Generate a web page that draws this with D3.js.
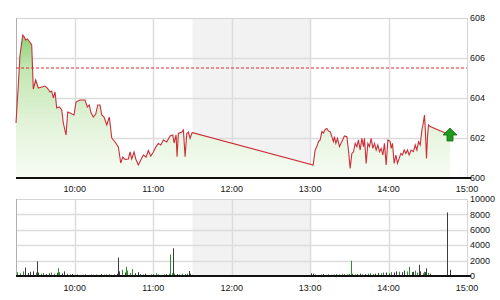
<!DOCTYPE html>
<html>
<head>
<meta charset="utf-8">
<script src="https://cdn.jsdelivr.net/npm/d3@7"></script>
<style>
  html, body { margin: 0; padding: 0; background: #fff; }
  svg { display: block; }
  .lbl { font-family: "Liberation Sans", Arial, sans-serif; font-size: 9px; fill: #161616; }
</style>
</head>
<body>
<div id="chart"></div>
<script>
// Price data (intraday)
const priceTimes = [
  "09:15:00","09:16:46","09:18:04","09:20:08","09:21:07","09:22:25","09:23:39","09:24:57","09:26:15","09:27:01",
  "09:28:14","09:30:05","09:32:04","09:34:40","09:37:12","09:38:57","09:41:01","09:42:19","09:43:33","09:44:51",
  "09:46:09","09:48:08","09:49:59","09:51:12","09:53:16","09:54:34","09:56:20","09:59:23","10:00:55","10:03:59",
  "10:07:48","10:09:34","10:11:06","10:12:10","10:14:10","10:16:00","10:17:32","10:19:17","10:20:35","10:22:21",
  "10:24:25","10:26:24","10:28:15","10:30:46","10:33:18","10:35:08","10:36:40","10:38:25","10:40:57","10:42:15",
  "10:43:33","10:45:19","10:46:37","10:48:36","10:50:26","10:52:26","10:54:30","10:56:15","10:58:05","11:00:05",
  "11:02:09","11:03:54","11:05:45","11:07:44","11:10:20","11:12:52","11:14:56","11:15:55","11:17:27","11:18:13",
  "11:19:13","11:21:49","11:23:03","11:24:21","11:25:39","11:26:52","11:28:10","11:29:28","11:30:00",
  "13:02:18","13:03:50","13:05:08","13:06:22","13:07:40","13:08:58","13:10:11","13:11:29","13:12:47","13:14:01",
  "13:15:19","13:16:37","13:17:50","13:18:36","13:19:41","13:20:54","13:22:26","13:24:16","13:26:15","13:28:06",
  "13:29:19","13:30:37","13:31:55","13:33:09","13:34:27","13:35:45","13:36:58","13:38:16","13:39:34","13:40:48",
  "13:41:34","13:42:52","13:44:10","13:45:23","13:46:41","13:47:59","13:49:13","13:50:31","13:51:49","13:53:03",
  "13:54:21","13:55:39","13:56:52","13:58:10","13:59:28","14:01:14","14:02:00","14:02:59","14:04:18","14:05:36",
  "14:06:49","14:08:07","14:09:25","14:10:39","14:11:57","14:13:15","14:14:28","14:15:46","14:17:18","14:19:04",
  "14:20:22","14:21:40","14:22:54","14:24:12","14:25:30","14:26:16","14:27:29","14:28:15","14:29:01","14:29:47",
  "14:30:33","14:31:51","14:47:00"
];
const priceValues = [
  602.75,604.65,606.15,607.15,607.07,606.9,606.95,606.85,606.73,606.65,
  604.45,604.9,604.5,604.55,604.6,604.5,604.3,604.35,604.0,604.3,
  603.5,603.55,603.4,602.75,602.15,603.3,603.25,603.15,603.8,603.9,
  603.9,603.55,603.65,603.3,603.05,603.2,603.65,603.65,603.15,603.05,
  602.65,603.05,602.0,601.8,601.55,600.75,601.05,600.93,600.95,601.3,
  600.95,601.3,600.95,600.65,600.9,601.15,601.05,601.37,601.1,601.3,
  601.57,601.73,601.65,601.9,601.8,602.1,602.15,601.75,602.15,601.07,
  602.23,602.3,602.4,601.07,602.23,602.3,601.98,602.23,602.27,
  600.65,601.4,601.57,601.82,601.9,602.32,602.25,602.43,602.48,602.35,
  602.32,602.07,601.82,602.07,601.73,601.98,601.57,601.82,602.1,602.07,
  601.4,600.48,601.23,601.3,601.73,601.57,601.9,601.4,601.98,601.57,
  601.98,600.73,601.73,601.57,601.98,601.48,601.73,601.4,601.65,601.32,
  601.48,601.15,601.73,600.65,601.9,601.82,601.48,601.73,600.73,601.15,
  600.73,600.98,601.23,601.15,601.4,601.23,601.4,601.15,601.4,601.32,
  601.65,601.4,601.82,601.65,602.4,602.65,603.15,602.23,600.98,602.07,
  602.65,602.57,602.15
];
const prevClose = 605.5;

// Volume: regular 2-minute base bars per session, plus the larger trades
const volAmStart = "09:16";
const volAmBase = [
  500,350,600,450,400,550,600,450,450,300,400,250,350,450,300,400,500,350,600,300,
  200,250,150,200,120,150,200,120,180,150,200,150,250,180,200,250,150,200,300,600,
  500,450,700,400,350,350,500,250,200,300,150,200,250,350,200,150,200,250,300,350,
  300,250,200,300,250,300,300,150
];
const volPmStart = "13:02";
const volPmBase = [
  300,200,150,200,250,150,200,150,200,250,200,300,250,200,250,300,200,250,300,200,
  250,300,350,250,300,400,350,300,450,350,500,450,600,550,500,700,600,650,500,700,
  450,600,350,500,400,300
];
const volSpikeTimes = ["09:22","09:31","09:47","10:33","10:36","10:39","10:44","11:13","11:15","11:27",
  "13:01","13:31","13:56","14:12","14:16","14:19","14:23","14:27","14:29","14:45","14:47"];
const volSpikeValues = [1100,1900,1000,2400,800,1200,900,2800,3600,650,
  350,1970,450,650,1200,550,1450,550,1000,8250,800];

// Axis labels
const timeTicks = ["10:00","11:00","12:00","13:00","14:00","15:00"];
const priceTicks = [600,602,604,606,608];
const volTicks = [0,2000,4000,6000,8000,10000];

const W = 500, H = 300;
const left = 16, right = 467;
const pTop = 18, pBottom = 178;
const vTop = 199, vBottom = 276;

const parseS = d3.timeParse("%H:%M:%S");
const parseM = d3.timeParse("%H:%M");

const x = d3.scaleTime()
  .domain([parseM("09:15"), parseM("15:00")])
  .range([left, right]);
const yP = d3.scaleLinear().domain([600, 608]).range([pBottom, pTop]);
const yV = d3.scaleLinear().domain([0, 10000]).range([vBottom, vTop]);

const prices = priceTimes.map((t, i) => ({ t: parseS(t), v: priceValues[i] }));

const vols = [];
volAmBase.forEach((v, i) => vols.push({ t: d3.timeMinute.offset(parseM(volAmStart), 2 * i), v }));
volPmBase.forEach((v, i) => vols.push({ t: d3.timeMinute.offset(parseM(volPmStart), 2 * i), v }));
volSpikeTimes.forEach((t, i) => vols.push({ t: parseM(t), v: volSpikeValues[i] }));

// up/down colour from the price move at that time
const bis = d3.bisector(d => d.t).right;
function isUp(t) {
  const i = Math.max(1, Math.min(prices.length - 1, bis(prices, t)));
  return prices[i].v >= prices[i - 1].v;
}

const svg = d3.select("#chart").append("svg")
  .attr("width", W).attr("height", H);

const defs = svg.append("defs");
const grad = defs.append("linearGradient")
  .attr("id", "fillGrad")
  .attr("gradientUnits", "userSpaceOnUse")
  .attr("x1", 0).attr("x2", 0).attr("y1", pTop).attr("y2", pBottom);
grad.append("stop").attr("offset", "0%").attr("stop-color", "#6fc655");
grad.append("stop").attr("offset", "30%").attr("stop-color", "#bfe6ae");
grad.append("stop").attr("offset", "65%").attr("stop-color", "#e2f3d9");
grad.append("stop").attr("offset", "100%").attr("stop-color", "#f7fcf4");

const lunch0 = parseM("11:30"), lunch1 = parseM("13:00");

function panel(top, bottom, yScale, ticks) {
  const g = svg.append("g");
  // lunch break shading
  g.append("rect")
    .attr("x", x(lunch0)).attr("y", top)
    .attr("width", x(lunch1) - x(lunch0)).attr("height", bottom - top)
    .attr("fill", "#f2f2f2");
  // horizontal grid
  g.selectAll(".hg").data(ticks.slice(1, -1)).enter().append("line")
    .attr("x1", left).attr("x2", right)
    .attr("y1", d => Math.round(yScale(d)) + 0.5).attr("y2", d => Math.round(yScale(d)) + 0.5)
    .attr("stroke", "#dcdcdc").attr("stroke-width", 1.5);
  // vertical grid
  g.selectAll(".vg").data(timeTicks.slice(0, -1)).enter().append("line")
    .attr("x1", d => Math.round(x(parseM(d))) + 0.5).attr("x2", d => Math.round(x(parseM(d))) + 0.5)
    .attr("y1", top).attr("y2", bottom)
    .attr("stroke", "#dcdcdc").attr("stroke-width", 1.5);
  // frame
  g.append("rect")
    .attr("x", left + 0.5).attr("y", top + 0.5)
    .attr("width", right - left).attr("height", bottom - top)
    .attr("fill", "none").attr("stroke", "#d4d4d4");
  g.append("line")
    .attr("x1", left + 0.5).attr("x2", left + 0.5).attr("y1", top).attr("y2", bottom)
    .attr("stroke", "#b0b0b0");
  return g;
}

function bottomAxis(bottom, labelY) {
  svg.append("line")
    .attr("x1", left).attr("x2", right + 4)
    .attr("y1", bottom).attr("y2", bottom)
    .attr("stroke", "#111").attr("stroke-width", 2);
  svg.selectAll(null).data(timeTicks).enter().append("text")
    .attr("class", "lbl")
    .attr("x", d => x(parseM(d)))
    .attr("y", labelY)
    .attr("text-anchor", "middle")
    .text(d => d);
}

function rightAxis(yScale, ticks) {
  svg.selectAll(null).data(ticks).enter().append("text")
    .attr("class", "lbl")
    .attr("x", right + 3)
    .attr("y", d => yScale(d))
    .attr("dy", "0.35em")
    .text(d => d);
}

// ---- price panel ----
panel(pTop, pBottom, yP, priceTicks);

const area = d3.area()
  .x(d => x(d.t)).y0(pBottom).y1(d => yP(d.v));
svg.append("path").datum(prices)
  .attr("d", area).attr("fill", "url(#fillGrad)");

svg.append("line")
  .attr("x1", left).attr("x2", right)
  .attr("y1", yP(prevClose)).attr("y2", yP(prevClose))
  .attr("stroke", "#dd2a2a").attr("stroke-width", 1)
  .attr("stroke-dasharray", "3,2");

const line = d3.line().x(d => x(d.t)).y(d => yP(d.v));
svg.append("path").datum(prices)
  .attr("d", line).attr("fill", "none")
  .attr("stroke", "#cc2f3a").attr("stroke-width", 1.1);

// arrow at the last price
const last = prices[prices.length - 1];
const ax = x(last.t), ay = yP(last.v);
svg.append("path")
  .attr("d", `M${ax},${ay - 7} L${ax + 7},${ay} L${ax + 3},${ay} L${ax + 3},${ay + 6} L${ax - 3},${ay + 6} L${ax - 3},${ay} L${ax - 7},${ay} Z`)
  .attr("fill", "#1e9a1e").attr("stroke", "#0f6d0f").attr("stroke-width", 0.8);

bottomAxis(pBottom, 192);
rightAxis(yP, priceTicks);

// ---- volume panel ----
panel(vTop, vBottom, yV, volTicks);

svg.selectAll(".vbar").data(vols).enter().append("line")
  .attr("x1", d => Math.round(x(d.t)) + 0.5).attr("x2", d => Math.round(x(d.t)) + 0.5)
  .attr("y1", vBottom).attr("y2", d => yV(d.v))
  .attr("stroke", d => isUp(d.t) ? "#2f8f2f" : "#3c3c3c")
  .attr("stroke-width", 1);

bottomAxis(vBottom, 291);
rightAxis(yV, volTicks);
</script>
</body>
</html>
